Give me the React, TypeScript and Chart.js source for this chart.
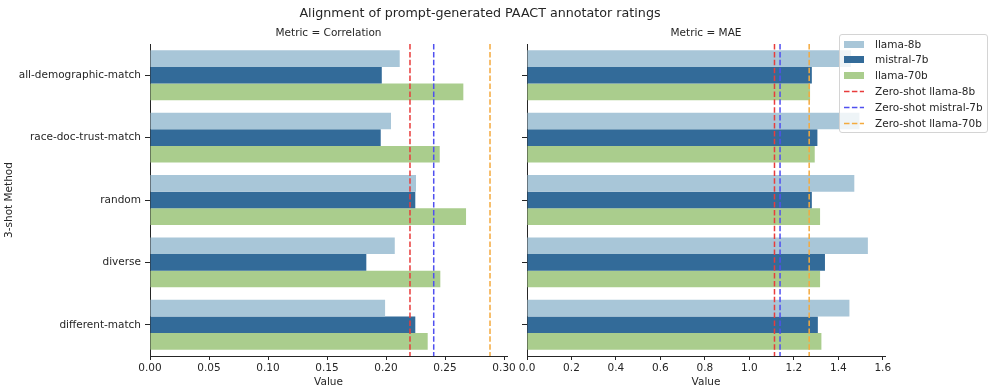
import React, { useEffect, useRef } from 'react';
import { Chart, registerables } from 'chart.js';

Chart.register(...registerables);

// ---------- data ----------
const categories = [
  'all-demographic-match',
  'race-doc-trust-match',
  'random',
  'diverse',
  'different-match',
];
const modelNames = ['llama-8b', 'mistral-7b', 'llama-70b'];

const corrLlama8b = [0.2116, 0.2042, 0.2254, 0.2074, 0.1992];
const corrMistral7b = [0.1964, 0.1955, 0.2248, 0.1833, 0.2248];
const corrLlama70b = [0.2655, 0.2455, 0.2678, 0.246, 0.2353];

const maeLlama8b = [1.457, 1.495, 1.472, 1.533, 1.45];
const maeMistral7b = [1.281, 1.306, 1.281, 1.34, 1.308];
const maeLlama70b = [1.273, 1.294, 1.318, 1.318, 1.324];

const zeroShotLabels = ['Zero-shot llama-8b', 'Zero-shot mistral-7b', 'Zero-shot llama-70b'];
const zeroShotCorr = [0.2203, 0.2404, 0.2881];
const zeroShotMae = [1.113, 1.138, 1.269];

const corrTickStep = 0.05;
const maeTickStep = 0.2;

// ---------- styles ----------
const barColors = ['#a8c6d8', '#336b99', '#aacd8d'];
const lineColors = ['#e83c3c', '#5050f0', '#f4aa3e'];
const textColor = '#262626';
const smallFont = 10.5;

Chart.defaults.font.family = "'DejaVu Sans', sans-serif";
Chart.defaults.font.size = smallFont;
Chart.defaults.color = textColor;

function zeroShotPlugin(values: number[]) {
  return {
    id: 'zeroShotLines',
    afterDatasetsDraw(chart: any) {
      const { ctx, chartArea, scales } = chart;
      ctx.save();
      values.forEach((v, i) => {
        const x = scales.x.getPixelForValue(v);
        ctx.strokeStyle = lineColors[i];
        ctx.lineWidth = 1.5;
        ctx.setLineDash([5.5, 2.4]);
        ctx.beginPath();
        ctx.moveTo(x, chartArea.top);
        ctx.lineTo(x, chartArea.bottom);
        ctx.stroke();
      });
      ctx.restore();
    },
  };
}

interface PanelParams {
  title: string;
  series: number[][];
  zeroShot: number[];
  max: number;
  step: number;
  decimals: number;
  padRight: number;
  yWidth: number;
  showLabels: boolean;
  yTitle?: string;
}

function buildConfig(p: PanelParams): any {
  const gridOpts = {
    display: true,
    drawOnChartArea: false,
    drawTicks: true,
    tickLength: 5,
    color: textColor,
    lineWidth: 1,
  };
  const borderOpts = { display: true, color: textColor, width: 1 };
  return {
    type: 'bar',
    data: {
      labels: categories,
      datasets: p.series.map((s, i) => ({
        label: modelNames[i],
        data: s,
        backgroundColor: barColors[i],
        borderWidth: 0,
        categoryPercentage: 0.8,
        barPercentage: 1,
      })),
    },
    options: {
      indexAxis: 'y',
      responsive: false,
      animation: false,
      events: [],
      layout: { padding: { left: 0, right: p.padRight, top: 0, bottom: 0 } },
      plugins: {
        legend: { display: false },
        tooltip: { enabled: false },
        title: {
          display: true,
          text: p.title,
          fullSize: false,
          color: textColor,
          font: { size: smallFont, weight: 'normal', lineHeight: 1.2 },
          padding: { top: 27, bottom: 4.4 },
        },
      },
      scales: {
        x: {
          type: 'linear',
          min: 0,
          max: p.max,
          grid: { ...gridOpts, tickLength: 4 },
          border: borderOpts,
          ticks: {
            stepSize: p.step,
            includeBounds: false,
            autoSkip: false,
            maxRotation: 0,
            padding: 2,
            color: textColor,
            callback: (v: any) => Number(v).toFixed(p.decimals),
          },
          title: {
            display: true,
            text: 'Value',
            color: textColor,
            font: { size: smallFont },
            padding: { top: 0, bottom: 2 },
          },
          afterFit: (s: any) => {
            s.height = 35;
          },
        },
        y: {
          type: 'category',
          grid: { ...gridOpts, offset: false },
          border: borderOpts,
          ticks: {
            padding: 4,
            color: textColor,
            autoSkip: false,
            ...(p.showLabels ? {} : { callback: () => '' }),
          },
          title: p.yTitle
            ? {
                display: true,
                text: p.yTitle,
                color: textColor,
                font: { size: smallFont },
                padding: { top: 3, bottom: 0 },
              }
            : { display: false },
          afterFit: (s: any) => {
            s.width = p.yWidth;
          },
        },
      },
    },
    plugins: [zeroShotPlugin(p.zeroShot)],
  };
}

const legendItems = [
  ...modelNames.map((name, i) => ({ label: name, kind: 'bar', color: barColors[i] })),
  ...zeroShotLabels.map((name, i) => ({ label: name, kind: 'line', color: lineColors[i] })),
];

export default function App() {
  const leftRef = useRef<HTMLCanvasElement>(null);
  const rightRef = useRef<HTMLCanvasElement>(null);

  useEffect(() => {
    const left = new Chart(
      leftRef.current as HTMLCanvasElement,
      buildConfig({
        title: 'Metric = Correlation',
        series: [corrLlama8b, corrMistral7b, corrLlama70b],
        zeroShot: zeroShotCorr,
        max: 0.3025,
        step: corrTickStep,
        decimals: 2,
        padRight: 15,
        yWidth: 150,
        showLabels: true,
        yTitle: '3-shot Method',
      })
    );
    const right = new Chart(
      rightRef.current as HTMLCanvasElement,
      buildConfig({
        title: 'Metric = MAE',
        series: [maeLlama8b, maeMistral7b, maeLlama70b],
        zeroShot: zeroShotMae,
        max: 1.61,
        step: maeTickStep,
        decimals: 1,
        padRight: 112,
        yWidth: 15,
        showLabels: false,
      })
    );
    return () => {
      left.destroy();
      right.destroy();
    };
  }, []);

  return (
    <div
      style={{
        position: 'absolute',
        left: 0,
        top: 0,
        width: 997,
        height: 391,
        background: '#ffffff',
        overflow: 'hidden',
        fontFamily: "'DejaVu Sans', sans-serif",
        color: textColor,
      }}
    >
      <canvas ref={leftRef} width={522} height={391} style={{ position: 'absolute', left: 0, top: 0 }} />
      <canvas ref={rightRef} width={485} height={391} style={{ position: 'absolute', left: 512, top: 0 }} />
      <div
        style={{
          position: 'absolute',
          left: 0,
          top: 4,
          width: 960,
          textAlign: 'center',
          fontSize: 12.7,
          lineHeight: '18px',
          whiteSpace: 'nowrap',
        }}
      >
        Alignment of prompt-generated PAACT annotator ratings
      </div>
      <div
        style={{
          position: 'absolute',
          left: 839,
          top: 34,
          width: 149,
          height: 99,
          boxSizing: 'border-box',
          border: '1px solid #d4d4d4',
          borderRadius: 3,
          background: 'rgba(255,255,255,0.8)',
        }}
      >
        {legendItems.map((item, i) => (
          <div
            key={item.label}
            style={{
              position: 'absolute',
              left: 4,
              top: 2.5 + i * 15.8,
              height: 13,
              display: 'flex',
              alignItems: 'center',
            }}
          >
            <svg width={20} height={13} style={{ display: 'block' }}>
              {item.kind === 'bar' ? (
                <rect x={0} y={3} width={20} height={7} fill={item.color} />
              ) : (
                <line
                  x1={0}
                  y1={6.5}
                  x2={20}
                  y2={6.5}
                  stroke={item.color}
                  strokeWidth={1.5}
                  strokeDasharray="5.5 2.4"
                />
              )}
            </svg>
            <span style={{ marginLeft: 11, fontSize: smallFont, lineHeight: '13px', whiteSpace: 'nowrap' }}>
              {item.label}
            </span>
          </div>
        ))}
      </div>
    </div>
  );
}
